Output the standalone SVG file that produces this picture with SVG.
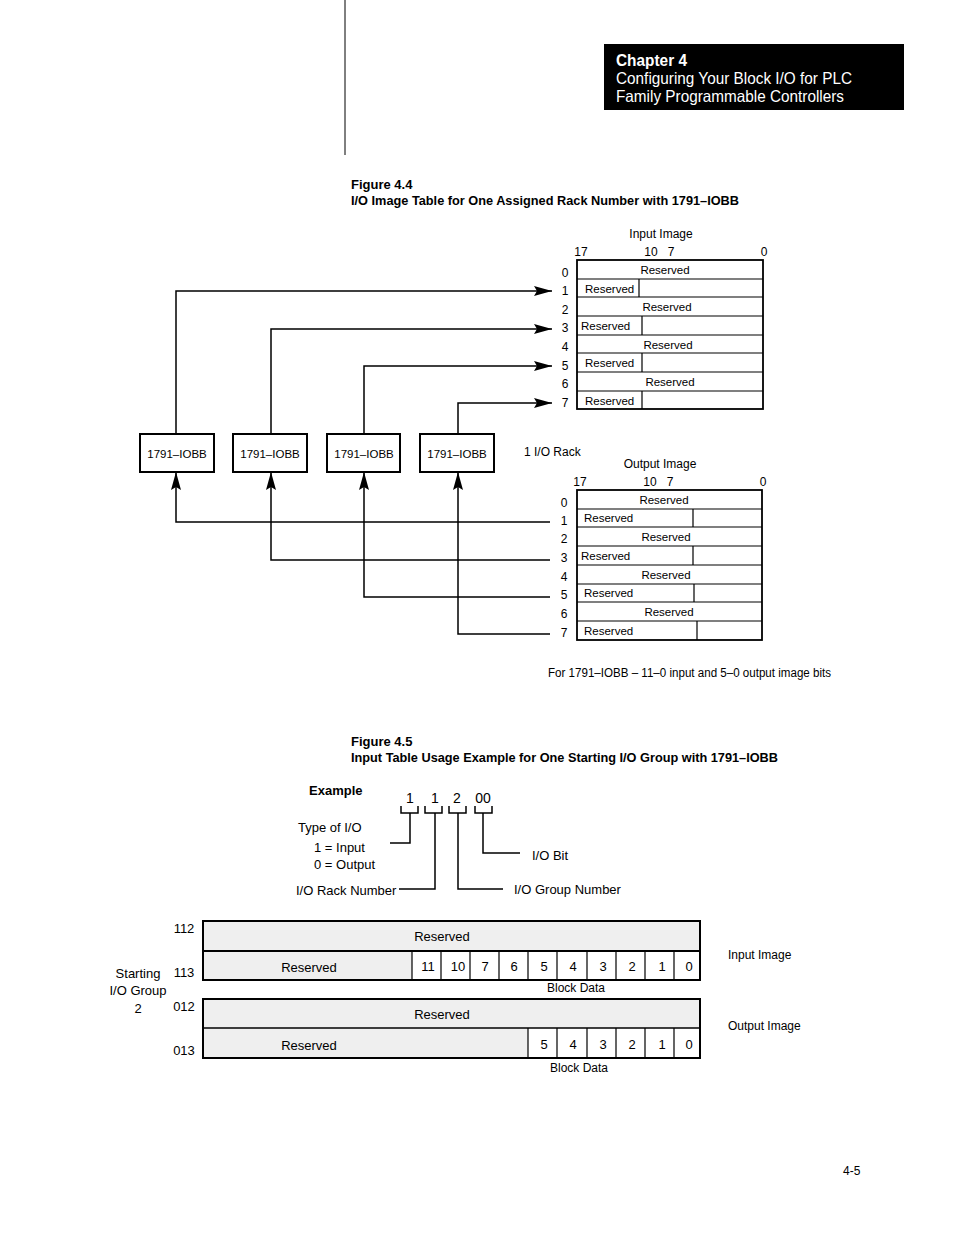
<svg xmlns="http://www.w3.org/2000/svg" width="954" height="1235" viewBox="0 0 954 1235">
<style>
text{font-family:"Liberation Sans",Arial,sans-serif;fill:#000}
.s{font-size:12px}
.r{font-size:11.5px}
.m{font-size:13px}
.d{font-size:14px}
.b{font-weight:bold}
.c{text-anchor:middle}
.ln{fill:none;stroke:#000;stroke-width:1.5}
.tb{fill:#fff;stroke:#000;stroke-width:1.8}
.dv{stroke:#000;stroke-width:1.2}
.gr{fill:#efefef}
</style>
<defs>
<marker id="ar" viewBox="0 0 18 10" refX="18" refY="5" markerWidth="18" markerHeight="10" markerUnits="userSpaceOnUse" orient="auto">
<path d="M0,0 L18,5 L0,10 L3,5 z" fill="#000"/>
</marker>
</defs>
<rect width="954" height="1235" fill="#fff"/>

<!-- header -->
<g id="header">
<line x1="345" y1="0" x2="345" y2="155" stroke="#000" stroke-width="1"/>
<rect x="604" y="44" width="300" height="66" fill="#000"/>
<text x="616" y="66" font-size="16.5" font-weight="bold" style="fill:#fff" textLength="71" lengthAdjust="spacingAndGlyphs">Chapter 4</text>
<text x="616" y="84" font-size="16.5" style="fill:#fff" textLength="236" lengthAdjust="spacingAndGlyphs">Configuring Your Block I/O for PLC</text>
<text x="616" y="102" font-size="16.5" style="fill:#fff" textLength="228" lengthAdjust="spacingAndGlyphs">Family Programmable Controllers</text>
</g>

<!-- Figure 4.4 -->
<g id="fig44-title">
<text x="351" y="189" class="m b">Figure 4.4</text>
<text x="351" y="205" class="m b" textLength="388" lengthAdjust="spacingAndGlyphs">I/O Image Table for One Assigned Rack Number with 1791–IOBB</text>
</g>

<g id="input-image">
<text x="661" y="238" class="s c">Input Image</text>
<text x="581" y="256" class="s c">17</text>
<text x="651" y="256" class="s c">10</text>
<text x="671" y="256" class="s c">7</text>
<text x="764" y="256" class="s c">0</text>
<rect x="577" y="260" width="186" height="149" class="tb"/>
<path class="dv" d="M577 279H763M577 297H763M577 316H763M577 335H763M577 353H763M577 372H763M577 391H763"/>
<path class="dv" d="M639 279V297M642 316V335M642 353V372M642 391V409"/>
<text x="665" y="274" class="r c">Reserved</text>
<text x="585" y="292.5" class="r">Reserved</text>
<text x="667" y="311" class="r c">Reserved</text>
<text x="581" y="330" class="r">Reserved</text>
<text x="668" y="348.5" class="r c">Reserved</text>
<text x="585" y="367" class="r">Reserved</text>
<text x="670" y="386" class="r c">Reserved</text>
<text x="585" y="404.5" class="r">Reserved</text>
<text x="565" y="277" class="s c">0</text>
<text x="565" y="295" class="s c">1</text>
<text x="565" y="314" class="s c">2</text>
<text x="565" y="332" class="s c">3</text>
<text x="565" y="351" class="s c">4</text>
<text x="565" y="370" class="s c">5</text>
<text x="565" y="388" class="s c">6</text>
<text x="565" y="407" class="s c">7</text>
</g>

<g id="rack-label"><text x="524" y="456" class="s">1 I/O Rack</text></g>

<g id="output-image">
<text x="660" y="468" class="s c">Output Image</text>
<text x="580" y="486" class="s c">17</text>
<text x="650" y="486" class="s c">10</text>
<text x="670" y="486" class="s c">7</text>
<text x="763" y="486" class="s c">0</text>
<rect x="577" y="490" width="185" height="150" class="tb"/>
<path class="dv" d="M577 509H762M577 527H762M577 546H762M577 565H762M577 584H762M577 602H762M577 621H762"/>
<path class="dv" d="M693 509V527M693 546V565M694 584V602M697 621V640"/>
<text x="664" y="503.5" class="r c">Reserved</text>
<text x="584" y="522" class="r">Reserved</text>
<text x="666" y="540.5" class="r c">Reserved</text>
<text x="581" y="559.5" class="r">Reserved</text>
<text x="666" y="578.5" class="r c">Reserved</text>
<text x="584" y="597" class="r">Reserved</text>
<text x="669" y="615.5" class="r c">Reserved</text>
<text x="584" y="634.5" class="r">Reserved</text>
<text x="564" y="507" class="s c">0</text>
<text x="564" y="525" class="s c">1</text>
<text x="564" y="543" class="s c">2</text>
<text x="564" y="562" class="s c">3</text>
<text x="564" y="581" class="s c">4</text>
<text x="564" y="599" class="s c">5</text>
<text x="564" y="618" class="s c">6</text>
<text x="564" y="637" class="s c">7</text>
</g>

<g id="mod1"><rect x="140" y="434" width="74" height="38" fill="#fff" stroke="#000" stroke-width="2"/><text x="177" y="457.5" class="r c">1791–IOBB</text></g>
<g id="mod2"><rect x="233" y="434" width="74" height="38" fill="#fff" stroke="#000" stroke-width="2"/><text x="270" y="457.5" class="r c">1791–IOBB</text></g>
<g id="mod3"><rect x="327" y="434" width="73" height="38" fill="#fff" stroke="#000" stroke-width="2"/><text x="364" y="457.5" class="r c">1791–IOBB</text></g>
<g id="mod4"><rect x="420" y="434" width="74" height="38" fill="#fff" stroke="#000" stroke-width="2"/><text x="457" y="457.5" class="r c">1791–IOBB</text></g>

<g id="connectors">
<path class="ln" d="M176 434V291H552" stroke-width="2" marker-end="url(#ar)"/>
<path class="ln" d="M271 434V329H552" marker-end="url(#ar)"/>
<path class="ln" d="M364 434V366H552" marker-end="url(#ar)"/>
<path class="ln" d="M458 434V403H552" marker-end="url(#ar)"/>
<path class="ln" d="M550 522H176V472" stroke-width="1.2" marker-end="url(#ar)"/>
<path class="ln" d="M550 560H271V472" stroke-width="2.2" marker-end="url(#ar)"/>
<path class="ln" d="M550 597H364V472" stroke-width="2.2" marker-end="url(#ar)"/>
<path class="ln" d="M550 634H458V472" stroke-width="1.2" marker-end="url(#ar)"/>
</g>

<g id="fig44-note"><text x="548" y="677" class="s" textLength="283" lengthAdjust="spacingAndGlyphs">For 1791–IOBB – 11–0 input and 5–0 output image bits</text></g>

<!-- Figure 4.5 -->
<g id="fig45-title">
<text x="351" y="746" class="m b">Figure 4.5</text>
<text x="351" y="762" class="m b" textLength="427" lengthAdjust="spacingAndGlyphs">Input Table Usage Example for One Starting I/O Group with 1791–IOBB</text>
</g>

<g id="example">
<text x="309" y="795" class="m b">Example</text>
<text x="410" y="803" class="d c">1</text>
<text x="435" y="803" class="d c">1</text>
<text x="457" y="803" class="d c">2</text>
<text x="483" y="803" class="d c">00</text>
<path class="ln" d="M401 806V813H418V806M425 806V813H442V806M449 806V813H466V806M475 806V813H492V806"/>
<path class="ln" stroke-width="2.5" d="M410 813V843H390"/>
<path class="ln" d="M435 813V889H399"/>
<path class="ln" d="M458 813V889H503"/>
<path class="ln" d="M483 813V853H520"/>
<text x="298" y="832" class="m">Type of I/O</text>
<text x="314" y="852" class="m">1 = Input</text>
<text x="314" y="869" class="m">0 = Output</text>
<text x="296" y="895" class="m">I/O Rack Number</text>
<text x="532" y="860" class="m">I/O Bit</text>
<text x="514" y="894" class="m">I/O Group Number</text>
</g>

<g id="table45-input">
<rect x="203" y="921" width="497" height="59" class="gr"/>
<rect x="412" y="951" width="288" height="29" fill="#fff"/>
<rect x="203" y="921" width="497" height="59" fill="none" stroke="#000" stroke-width="2"/>
<line x1="203" y1="951" x2="700" y2="951" stroke="#000" stroke-width="2"/>
<path class="dv" stroke-width="1.5" d="M412 951V980M441 951V980M470 951V980M499 951V980M528 951V980M557 951V980M587 951V980M616 951V980M645 951V980M674 951V980"/>
<text x="442" y="941" class="m c">Reserved</text>
<text x="309" y="972" class="m c">Reserved</text>
<text x="428" y="971" class="m c">11</text>
<text x="458" y="971" class="m c">10</text>
<text x="485" y="971" class="m c">7</text>
<text x="514" y="971" class="m c">6</text>
<text x="544" y="971" class="m c">5</text>
<text x="573" y="971" class="m c">4</text>
<text x="603" y="971" class="m c">3</text>
<text x="632" y="971" class="m c">2</text>
<text x="662" y="971" class="m c">1</text>
<text x="689" y="971" class="m c">0</text>
<text x="576" y="992" class="s c">Block Data</text>
<text x="728" y="959" class="s">Input Image</text>
</g>

<g id="table45-output">
<rect x="203" y="999" width="497" height="59" class="gr"/>
<rect x="528" y="1028" width="172" height="30" fill="#fff"/>
<rect x="203" y="999" width="497" height="59" fill="none" stroke="#000" stroke-width="2"/>
<line x1="203" y1="1028" x2="700" y2="1028" stroke="#000" stroke-width="1.5"/>
<path class="dv" stroke-width="1.5" d="M528 1028V1058M557 1028V1058M587 1028V1058M616 1028V1058M645 1028V1058M674 1028V1058"/>
<text x="442" y="1019" class="m c">Reserved</text>
<text x="309" y="1050" class="m c">Reserved</text>
<text x="544" y="1049" class="m c">5</text>
<text x="573" y="1049" class="m c">4</text>
<text x="603" y="1049" class="m c">3</text>
<text x="632" y="1049" class="m c">2</text>
<text x="662" y="1049" class="m c">1</text>
<text x="689" y="1049" class="m c">0</text>
<text x="579" y="1072" class="s c">Block Data</text>
<text x="728" y="1030" class="s">Output Image</text>
</g>

<g id="table45-labels">
<text x="184" y="933" class="m c">112</text>
<text x="184" y="977" class="m c">113</text>
<text x="184" y="1011" class="m c">012</text>
<text x="184" y="1055" class="m c">013</text>
<text x="138" y="978" class="m c">Starting</text>
<text x="138" y="995" class="m c">I/O Group</text>
<text x="138" y="1013" class="m c">2</text>
</g>

<g id="page-number"><text x="843" y="1175" class="s">4-5</text></g>
</svg>
